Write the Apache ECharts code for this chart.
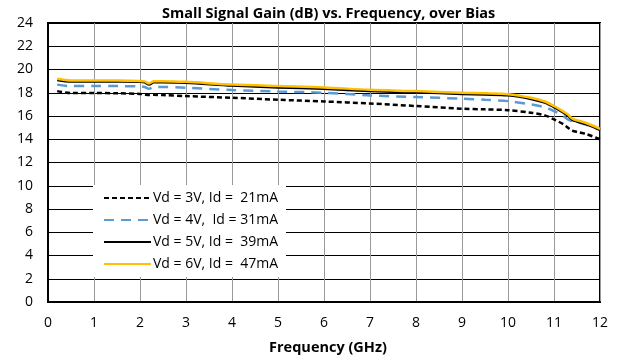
<!DOCTYPE html>
<html><head><meta charset="utf-8">
<script src="https://cdn.jsdelivr.net/npm/echarts@6/dist/echarts.min.js"></script>
<style>html,body{margin:0;padding:0;background:#fff}#c{width:618px;height:360px}</style>
</head><body><div id="c"></div>
<script>
const freq = [0.2, 0.5, 1, 1.5, 2, 2.1, 2.2, 2.3, 2.5, 3, 4, 5, 6, 7, 8, 9, 9.5, 10, 10.5, 10.8, 11, 11.2, 11.3, 11.4, 11.5, 11.7, 12];
const g3V = [18.14, 17.97, 17.97, 17.96, 17.9, 17.85, 17.8, 17.82, 17.8, 17.71, 17.57, 17.4, 17.25, 17.08, 16.86, 16.63, 16.57, 16.5, 16.28, 16.05, 15.71, 15.3, 15.0, 14.75, 14.63, 14.45, 14.0];
const g4V = [18.7, 18.57, 18.57, 18.57, 18.55, 18.5, 18.34, 18.5, 18.5, 18.43, 18.23, 18.11, 18.0, 17.77, 17.63, 17.49, 17.4, 17.28, 17.0, 16.75, 16.43, 16.0, 15.71, 15.55, 15.48, 15.25, 14.8];
const g5V = [19.1, 18.97, 18.97, 18.96, 18.94, 18.9, 18.7, 18.9, 18.9, 18.86, 18.62, 18.46, 18.34, 18.15, 18.04, 17.9, 17.85, 17.78, 17.47, 17.15, 16.76, 16.3, 16.04, 15.67, 15.53, 15.3, 14.8];
const g6V = [19.2, 19.05, 19.05, 19.05, 19.02, 18.98, 18.8, 19.0, 19.0, 18.94, 18.7, 18.57, 18.46, 18.25, 18.14, 18.0, 17.95, 17.88, 17.57, 17.25, 16.86, 16.4, 16.14, 15.77, 15.63, 15.4, 14.9];
const names = ['Vd = 3V, Id =  21mA', 'Vd = 4V,  Id = 31mA', 'Vd = 5V, Id =  39mA', 'Vd = 6V, Id =  47mA'];
const xTicks = [0, 12, 1];
const yTicks = [0, 24, 2];

const pair = a => freq.map((f, i) => [f, a[i]]);
const font = '"Open Sans", "Noto Sans", sans-serif';
const chart = echarts.init(document.getElementById('c'), null, {renderer: 'canvas'});
chart.setOption({
  animation: false,
  title: {text: 'Small Signal Gain (dB) vs. Frequency, over Bias', left: 157, top: 1,
    textStyle: {fontFamily: font, fontSize: 14.5, fontWeight: 'bold', color: '#000'}},
  grid: {left: 48, right: 18, top: 23, bottom: 57, show: true, borderColor: '#000', borderWidth: 2, backgroundColor: 'transparent'},
  legend: {
    orient: 'vertical', left: 93, top: 185, itemWidth: 47, itemHeight: 10, itemGap: 8,
    backgroundColor: '#fff', padding: [6, 8, 6, 10],
    itemStyle: {opacity: 0},
    textStyle: {fontFamily: font, fontSize: 14, color: '#000', padding: [0, 0, 0, -3]},
    data: names
  },
  xAxis: {
    type: 'value', min: xTicks[0], max: xTicks[1], interval: xTicks[2],
    name: 'Frequency (GHz)', nameLocation: 'middle', nameGap: 38,
    nameTextStyle: {fontFamily: font, fontSize: 14.5, fontWeight: 'bold', color: '#000', padding: [0, 0, 0, 8]},
    axisLine: {show: true, lineStyle: {color: '#000', width: 2}},
    axisTick: {show: false},
    axisLabel: {fontFamily: font, fontSize: 14, color: '#000', margin: 14},
    splitLine: {show: true, lineStyle: {color: '#999', width: 1}}
  },
  yAxis: {
    type: 'value', min: yTicks[0], max: yTicks[1], interval: yTicks[2],
    axisLine: {show: true, lineStyle: {color: '#000', width: 2}},
    axisTick: {show: false},
    axisLabel: {fontFamily: font, fontSize: 14, color: '#000', margin: 15},
    splitLine: {show: true, lineStyle: {color: '#000', width: 1}}
  },
  series: [
    {name: names[0], type: 'line', data: pair(g3V), showSymbol: false, symbol: 'none', smooth: 0.3,
     lineStyle: {color: '#000', width: 2.5, type: [5, 3]}, itemStyle: {color: '#000'}},
    {name: names[1], type: 'line', data: pair(g4V), showSymbol: false, symbol: 'none', smooth: 0.3,
     lineStyle: {color: '#5B9BD5', width: 2.5, type: [10, 7]}, itemStyle: {color: '#5B9BD5'}},
    {name: names[2], type: 'line', data: pair(g5V), showSymbol: false, symbol: 'none', smooth: 0.3,
     lineStyle: {color: '#000', width: 2.5}, itemStyle: {color: '#000'}},
    {name: names[3], type: 'line', data: pair(g6V), showSymbol: false, symbol: 'none', smooth: 0.3,
     lineStyle: {color: '#FFC000', width: 2.5}, itemStyle: {color: '#FFC000'}}
  ]
});
</script></body></html>
